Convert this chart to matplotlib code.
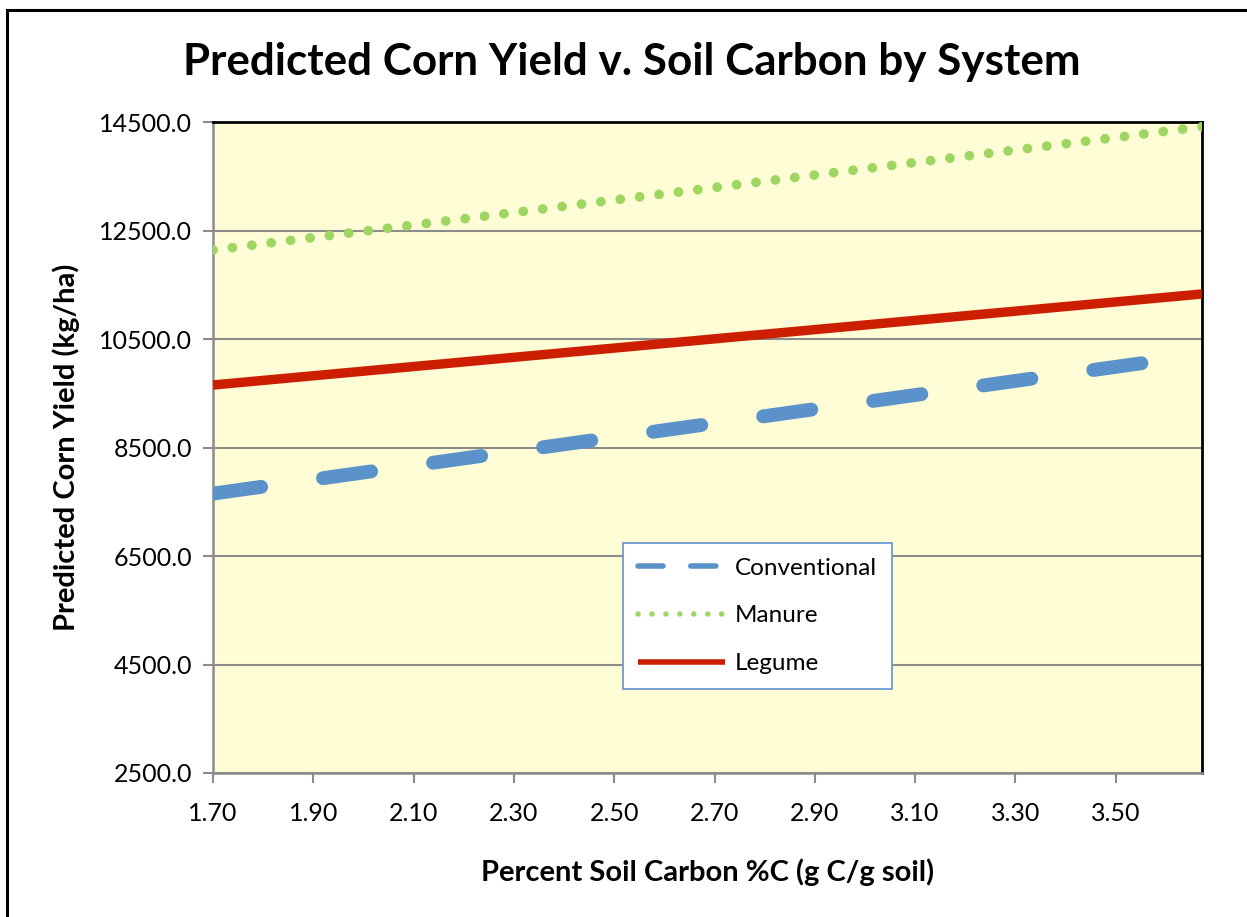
import matplotlib
matplotlib.use("Agg")
import matplotlib.pyplot as plt
from matplotlib.patches import Rectangle

plt.rcParams['font.family'] = ['Lato', 'DejaVu Sans']

# values (line ends)
soil_c = [1.70, 3.672]
conventional = [7650, 10210]
manure = [12140, 14413]
legume = [9652, 11330]

x_ticks = [1.70, 1.90, 2.10, 2.30, 2.50, 2.70, 2.90, 3.10, 3.30, 3.50]
y_ticks = [2500, 4500, 6500, 8500, 10500, 12500, 14500]

fig = plt.figure(figsize=(12.47, 9.17), dpi=100)
ax = fig.add_axes([213/1247, 1-773/917, (1202-213)/1247, (773-122)/917])
ax.set_facecolor('#FFFDD5')

# outer chart frame (cut off at right/bottom in the original)
fig.patches.append(Rectangle((7/1247, -0.05), 1.1, 1-10/917+0.05, transform=fig.transFigure,
                             fill=False, edgecolor='black', linewidth=2.2))

ax.plot(soil_c, conventional, color='#5B92C9', linewidth=10, linestyle=(0, (3.5, 4.5)),
        dash_capstyle='round', solid_capstyle='round', label='Conventional', zorder=3)
ax.plot(soil_c, manure, color='#9ED661', linewidth=7, linestyle=(0, (0.01, 2.0)),
        dash_capstyle='round', label='Manure', zorder=3)
ax.plot(soil_c, legume, color='#CC1E00', linewidth=6.8, solid_capstyle='butt',
        label='Legume', zorder=3)

ax.set_xlim(1.70, 3.672)
ax.set_ylim(2500, 14500)
ax.set_xticks(x_ticks)
ax.set_xticklabels(['%.2f' % v for v in x_ticks])
ax.set_yticks(y_ticks)
ax.set_yticklabels(['%.1f' % v for v in y_ticks])
ax.grid(axis='y', color='#8C8C8C', linewidth=1.5, zorder=1)
ax.set_axisbelow(True)
ax.tick_params(axis='both', labelsize=18, length=7, width=1.5, color='#8C8C8C', pad=8)
ax.tick_params(axis='x', pad=14)

for side in ['left', 'bottom']:
    ax.spines[side].set_color('#8C8C8C')
    ax.spines[side].set_linewidth(1.8)
for side in ['top', 'right']:
    ax.spines[side].set_color('black')
    ax.spines[side].set_linewidth(2)

ax.set_ylabel('Predicted Corn Yield (kg/ha)', fontsize=21, fontweight='bold', labelpad=14)
ax.set_xlabel('Percent Soil Carbon %C (g C/g soil)', fontsize=21, fontweight='bold', labelpad=24)
fig.text(632/1247, 1-62/917, 'Predicted Corn Yield v. Soil Carbon by System',
         ha='center', va='center', fontsize=31.7, fontweight='bold')

leg = ax.legend(loc='upper left', bbox_to_anchor=((623-213)/989, (773-543)/651),
                fontsize=17.5, frameon=True, fancybox=False, framealpha=1,
                edgecolor='#6C9BD2', handlelength=3.6, labelspacing=1.1,
                borderpad=0.6, handletextpad=0.4, borderaxespad=0)
leg.get_frame().set_linewidth(1.3)
for h in leg.get_lines():
    h.set_linewidth(4)
leg.get_lines()[0].set_linestyle((0, (4.5, 5.0)))
leg.get_lines()[1].set_linestyle((0, (0.01, 2.5)))

fig.savefig('out.png', dpi=100)
